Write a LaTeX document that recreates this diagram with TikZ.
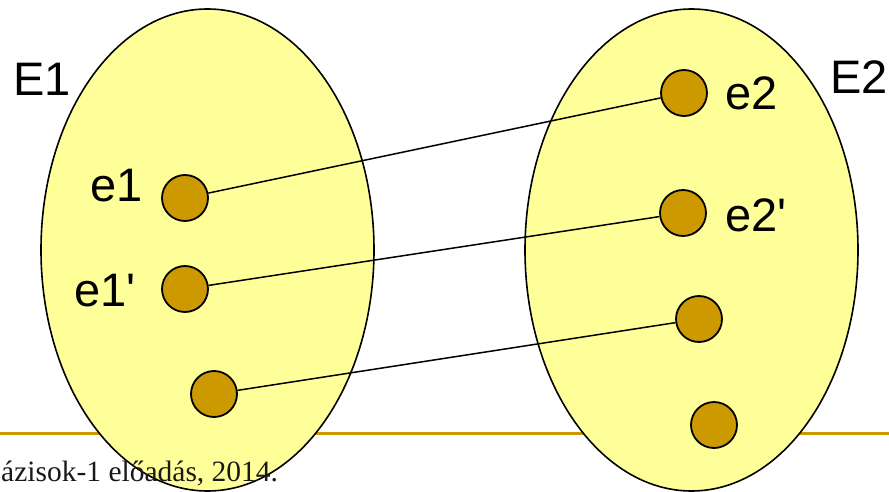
\documentclass[tikz,border=0pt]{standalone}
\usepackage{fontspec}
\setmainfont{Liberation Sans}
\newfontfamily\footfont{Liberation Serif}
\usetikzlibrary{shapes.geometric,positioning}
\definecolor{setyellow}{RGB}{255,255,153}
\definecolor{dotgold}{RGB}{204,153,0}

\begin{document}
\begin{tikzpicture}[
    x=1pt, y=-1pt,
    set/.style={ellipse, draw, line width=1.6pt, fill=setyellow, minimum width=333pt, minimum height=482pt, inner sep=0pt},
    elem/.style={circle, draw, line width=1.8pt, fill=dotgold, minimum size=46pt, inner sep=0pt},
    lbl/.style={font=\fontsize{47}{50}\selectfont, inner sep=0pt, anchor=base west},
    link/.style={line width=1.5pt}
]

\useasboundingbox (0,0) rectangle (889,492);

\coordinate (rulel) at (0,433);
\coordinate (ruler) at (889,433);
\draw[dotgold, line width=3pt] (rulel) -- (ruler);

\node[set] (E1) at (207.5,250) {};
\node[set] (E2) at (691.5,250) {};

\node[elem] (e1) at (185,198) {};
\node[elem] (e1p) at (185,289) {};
\node[elem] (e1pp) at (214,394) {};
\node[elem] (e2) at (684,93) {};
\node[elem] (e2p) at (683,213) {};
\node[elem] (e2pp) at (699,319) {};
\node[elem] (e2ppp) at (714,425) {};

\draw[link] (e1) -- (e2);
\draw[link] (e1p) -- (e2p);
\draw[link] (e1pp) -- (e2pp);

\node[lbl] (lE1) at (13,96) {E1};
\node[lbl] (lE2) at (830,94) {E2};
\node[lbl] (le1) at (90,201.7) {e1};
\node[lbl] (le1p) at (74,306.7) {e1\textquotesingle};
\node[lbl] (le2) at (725,110) {e2};
\node[lbl] (le2p) at (725,231.7) {e2\textquotesingle};

\node[anchor=base west, inner sep=0pt, text=black!90, font=\footfont\fontsize{29.5}{32}\selectfont] (foot) at (1,481) {ázisok-1 előadás, 2014.};

\end{tikzpicture}
\end{document}
